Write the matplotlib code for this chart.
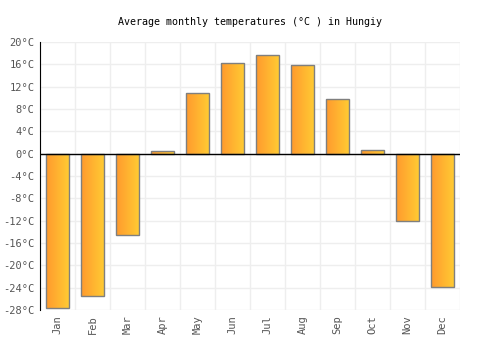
import numpy as np
import matplotlib
matplotlib.use("Agg")
import matplotlib.pyplot as plt
from matplotlib.colors import LinearSegmentedColormap

months = ["Jan", "Feb", "Mar", "Apr", "May", "Jun", "Jul", "Aug", "Sep", "Oct", "Nov", "Dec"]
temps = [-27.7, -25.4, -14.5, 0.4, 10.8, 16.3, 17.7, 15.9, 9.8, 0.7, -12.0, -23.8]
yticks = list(range(-28, 21, 4))

plt.rcParams["font.family"] = "DejaVu Sans Mono"

fig = plt.figure(figsize=(5, 3.5), dpi=100)
ax = fig.add_axes([0.08, 0.114, 0.84, 0.766])

x = np.arange(len(months))

# grid
for b in np.arange(-0.5, len(months), 1.0):
    ax.axvline(b, color="#EEEEEE", lw=1, zorder=0)
for t in yticks:
    ax.axhline(t, color="#EEEEEE", lw=1, zorder=0)

# bars with a left-to-right orange gradient
cmap = LinearSegmentedColormap.from_list("bar", ["#FF9A2E", "#FFCA33"])
grad = np.linspace(0, 1, 64).reshape(1, -1)
bars = ax.bar(x, temps, width=0.65, facecolor="none", edgecolor="#7F7F7F", lw=1, zorder=3)
for b in bars:
    x0, y0 = b.get_x(), b.get_y()
    w, h = b.get_width(), b.get_height()
    im = ax.imshow(grad, cmap=cmap, aspect="auto",
                   extent=[x0, x0 + w, min(y0, y0 + h), max(y0, y0 + h)], zorder=2)
    im.set_clip_path(b)
ax.set_xlim(-0.5, len(months) - 0.5)
ax.set_ylim(-28, 20)

ax.axhline(0, color="black", lw=1, zorder=4)

ax.set_xticks(x)
ax.set_xticklabels(months, rotation=90, fontsize=7.5, color="#555555")
ax.set_yticks(yticks)
ax.set_yticklabels([f"{t}°C" for t in yticks], fontsize=7.5, color="#555555")
ax.tick_params(length=0, pad=4)

for s in ["top", "right", "bottom"]:
    ax.spines[s].set_visible(False)
ax.spines["left"].set_color("black")

ax.set_title("Average monthly temperatures (°C ) in Hungiy", fontsize=7.2, pad=12)

fig.savefig("out.png", dpi=100, facecolor="white")
